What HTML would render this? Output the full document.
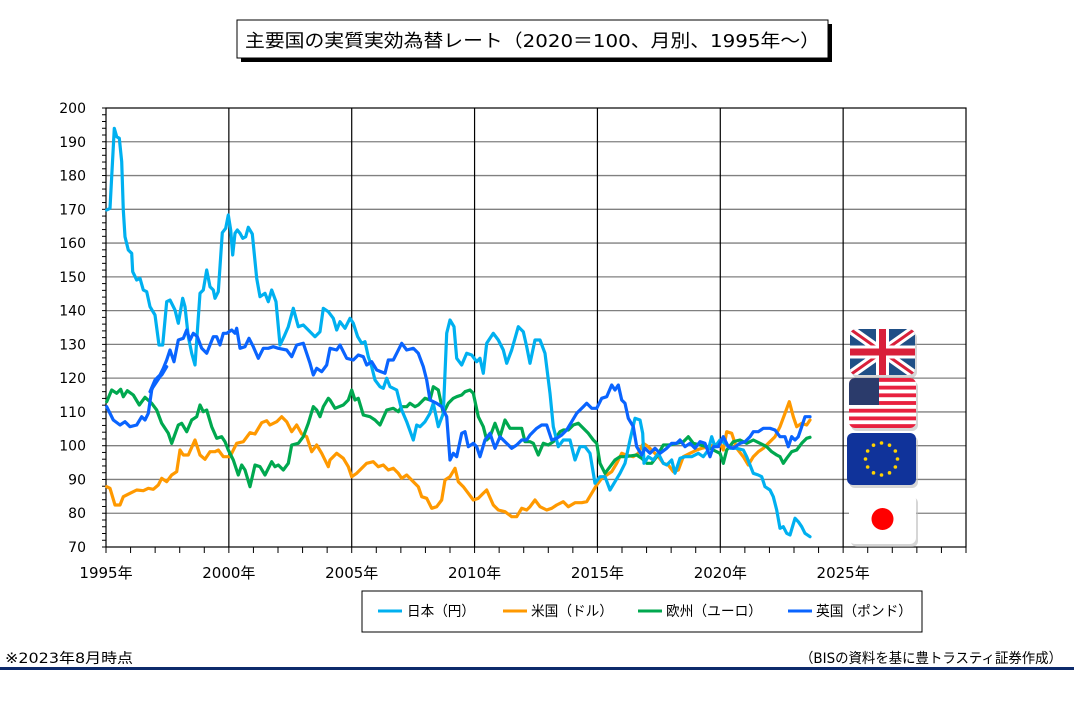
<!DOCTYPE html>
<html><head><meta charset="utf-8"><style>
body{margin:0;background:#fff;}
svg text{font-family:"DejaVu Sans","Noto Sans CJK JP",sans-serif;}
</style></head><body>
<svg id="s" width="1074" height="707" xmlns="http://www.w3.org/2000/svg">
<rect x="241" y="24" width="591" height="38" fill="#000"/>
<rect x="237" y="20" width="591" height="38" fill="#fff" stroke="#000" stroke-width="1"/>
<text x="245" y="47" font-size="18" textLength="575" lengthAdjust="spacingAndGlyphs">主要国の実質実効為替レート（2020＝100、月別、1995年～）</text>
<g id="grid"></g>
<g id="series" fill="none" stroke-width="3.2" stroke-linejoin="round" stroke-linecap="round"></g>
<g id="flags"></g>
<rect x="362" y="591" width="560" height="41" fill="#fff" stroke="#000"/>
<g font-size="14">
<line x1="378" y1="611" x2="402" y2="611" stroke="#00b0f0" stroke-width="3"/><text x="407" y="616" textLength="68" lengthAdjust="spacingAndGlyphs">日本（円）</text>
<line x1="503" y1="611" x2="527" y2="611" stroke="#ff9900" stroke-width="3"/><text x="531" y="616" textLength="82" lengthAdjust="spacingAndGlyphs">米国（ドル）</text>
<line x1="638" y1="611" x2="662" y2="611" stroke="#00a84f" stroke-width="3"/><text x="666" y="616" textLength="96" lengthAdjust="spacingAndGlyphs">欧州（ユーロ）</text>
<line x1="788" y1="611" x2="812" y2="611" stroke="#0a64ff" stroke-width="3"/><text x="816" y="616" textLength="96" lengthAdjust="spacingAndGlyphs">英国（ポンド）</text>
</g>
<text x="5" y="663" font-size="14" textLength="128" lengthAdjust="spacingAndGlyphs">※2023年8月時点</text>
<text x="800" y="663" font-size="14" textLength="262" lengthAdjust="spacingAndGlyphs">（BISの資料を基に豊トラスティ証券作成）</text>
<rect x="0" y="667" width="1074" height="3" fill="#0d2a6b"/>
</svg>
<script>
var NS="http://www.w3.org/2000/svg";
function el(p,t,a){var e=document.createElementNS(NS,t);for(var k in a)e.setAttribute(k,a[k]);p.appendChild(e);return e;}
var X0=106,X1=966,Y0=108,Y1=547;
var g=document.getElementById('grid');
function yv(v){return Y0+(200-v)*(Y1-Y0)/130;}
function xy(y){return X0+(y-1995)*(X1-X0)/35;}
for(var v=70;v<=200;v+=10){var y=yv(v);
 if(v>70&&v<200)el(g,'line',{x1:X0,x2:X1,y1:y,y2:y,stroke:'#808080','stroke-width':1.3});
 var t=el(g,'text',{x:86,y:y+5,'font-size':14,'text-anchor':'end'});t.textContent=v;}
for(var v=70;v<=200;v+=2){var y=yv(v);el(g,'line',{x1:X0-4,x2:X0,y1:y,y2:y,stroke:'#000','stroke-width':1});}
for(var yr=1995;yr<=2030;yr++){var x=xy(yr);
 el(g,'line',{x1:x,x2:x,y1:Y1,y2:Y1+6,stroke:'#000','stroke-width':1});
 if(yr%5==0){ if(yr>1995&&yr<2030)el(g,'line',{x1:x,x2:x,y1:Y0,y2:Y1,stroke:'#000','stroke-width':1.2});
  if(yr<=2025){var t=el(g,'text',{x:x,y:Y1+31,'font-size':15,'text-anchor':'middle'});t.textContent=yr+'年';}}}
el(g,'rect',{x:X0,y:Y0,width:X1-X0,height:Y1-Y0,fill:'none',stroke:'#000','stroke-width':1.2});

function tr(ox,oy,pts){var r=[];for(var i=0;i<pts.length;i+=2)r.push([ox+pts[i]/3,oy+pts[i+1]/3]);return r;}
function draw(col,arr){var d='';arr.forEach(function(p,i){d+=(i?'L':'M')+p[0].toFixed(1)+','+p[1].toFixed(1);});
 el(document.getElementById('series'),'path',{d:d,stroke:col});}

// orange
draw('#ff9900',[].concat(
tr(90,360,[50,380,60,385,75,435,90,435,100,410,120,400,140,390,160,392,175,385,190,388,205,375,215,355,230,365,245,345,260,335,270,270,280,285,295,285,315,240,330,285,345,298,360,275,375,275,385,270,400,290,420,290,440,250,460,245,480,218,495,222,515,188,530,182,540,195,560,185,575,170,590,185,605,215,620,195,635,222,650,230,665,275,680,255,695,280,715,320]),
tr(330,300,[0,480,20,460,40,475,55,500,65,530,80,520,95,505,110,490,130,485,145,500,160,495,175,510,190,505,205,520,215,535,230,525,250,545,265,560,275,590,290,595,305,625,320,620,335,600,345,540,360,530,375,505,385,545,400,560,415,580,430,600,445,595,460,580,470,570,490,615,505,630,525,635,545,650,560,650,575,625,590,630,600,620,615,600,630,620,650,630,665,625,680,615,700,605,715,620,735,608,755,608,770,605,785,580,800,555,815,535,830,525,845,515,860,490,875,460,888,465]),
tr(580,300,[160,470,175,460,190,430,205,440,220,455,235,470,250,490,265,495,280,515,295,510,310,470,330,460,350,450,365,445,385,440,400,435,420,430,430,450,440,395,455,400,470,445,490,470,505,495,520,470,535,455,550,445,570,425,585,410,600,380,615,340,628,305,640,350,650,380,665,370,680,375,690,360])));
// green
draw('#00a84f',[].concat(
tr(90,360,[50,125,65,90,80,100,92,88,100,110,112,92,130,105,148,135,165,112,185,130,200,150,215,190,235,220,245,250,265,195,275,190,290,215,305,180,320,170,330,135,340,155,350,150,365,200,380,235,395,230,405,245,415,270,430,300,445,345,455,315,465,330,480,380,495,315,510,320,525,345,545,305,555,320,565,315,580,330,595,310,605,255,625,250,640,230,655,190,670,140,680,150,690,170,700,140,715,115]),
tr(330,300,[0,300,15,325,40,315,55,300,65,270,75,300,85,295,100,345,120,350,135,360,150,375,170,330,190,325,205,335,215,320,230,320,240,310,255,320,265,315,285,295,300,300,310,260,325,270,340,340,355,310,370,295,380,290,395,285,405,275,420,270,430,280,445,350,460,380,470,420,480,410,495,370,510,410,525,360,540,385,560,385,575,385,585,425,600,425,610,430,625,465,640,430,655,435,670,425,690,395,700,390,715,390,730,375,745,370,760,385,775,400,790,420,800,430,810,490,825,520,840,500,855,480,870,470,885,470]),
tr(580,300,[170,465,185,475,200,490,215,490,230,470,250,435,270,435,290,430,310,425,325,410,340,430,360,435,380,440,400,450,420,460,430,490,440,450,460,425,480,420,500,430,520,420,540,430,560,440,575,455,590,465,600,470,610,490,620,475,635,455,650,450,665,430,680,415,690,412])));
// japan
draw('#00b0f0',[].concat(
tr(60,90,[140,360,150,355,163,115,170,140,178,145,185,215,190,360,195,440,205,480,215,490,218,545,230,570,240,565,250,600,260,605,270,650,285,675,297,765,308,765,320,635,330,630,345,660,355,700,368,625,375,650,385,740,395,790,405,825,420,610,430,600,440,540,450,590,460,600,465,625,475,605,487,428,497,415,505,375,512,420,518,495,525,430,532,420,540,430,548,445,557,440,565,412,577,432,590,565,600,620,615,610,625,635,635,600,648,635,660,765,672,740,685,710,700,655,715,710,730,705,745,720,765,740,780,725,790,655,805,665,820,685,830,720,840,695,855,715,870,685,880,700,893,740,905,760,915,755,925,800,935,830,945,870,960,890,970,895,980,865,990,890]),
tr(330,300,[200,270,215,330,230,365,250,420,260,375,270,380,285,365,300,340,310,310,325,380,340,340,350,100,360,60,372,80,380,175,395,195,410,160,425,165,440,185,450,175,460,220,470,130,490,100,505,120,520,150,530,190,545,150,565,80,580,95,590,140,600,190,615,120,630,120,645,160,660,280,670,380,685,440,700,420,720,420,735,480,750,440,765,440,780,460,795,550,810,530,825,530,840,570,855,545,870,520,885,490]),
tr(580,300,[150,420,165,355,180,360,188,400,192,490,205,470,220,480,235,460,250,490,260,495,275,480,285,520,300,475,315,470,335,470,355,460,370,470,385,450,395,410,405,440,420,420,435,430,450,445,470,445,490,450,500,470,510,495,520,520,535,525,545,530,555,560,570,570,580,590,590,630,600,685,610,680,620,700,630,705,645,655,655,665,665,680,675,700,690,710])));
// UK
draw('#0a64ff',[].concat(
tr(90,360,[50,140,70,180,90,195,105,185,120,200,140,195,155,170,165,180,175,160,185,90,200,55,215,45,230,20]),
tr(60,90,[270,905,285,870,300,855,310,835,320,810,330,780,342,815,355,750,370,745,380,720,390,750,400,730,412,740,425,775,440,790,460,740,470,740,480,765,490,730,500,730,515,720,525,730,530,715,540,775,555,770,567,745,580,770,595,805,610,775,625,775,640,770,655,775,680,780,695,800,710,765,730,760,750,820,760,855,770,835,785,845,800,825,810,775,830,780,840,765,860,805,880,810,895,795,910,800,920,825,935,815,950,840,975,850,985,810,1000,810]),
tr(330,300,[200,160,215,130,230,150,250,145,265,160,280,200,290,240,300,300,320,310,335,320,350,350,360,480,370,460,380,470,395,400,405,395,415,440,430,430,440,440,450,470,465,420,480,400,495,445,510,410,525,425,545,445,560,435,575,420,590,420,600,405,620,385,635,375,650,375,665,420,680,415,695,405,710,390,725,365,740,340,760,320,770,310,785,325,800,325,815,295,830,290,845,255,855,270,865,255,875,300,885,310,895,355]),
tr(580,300,[160,380,170,440,185,465,195,445,210,460,225,445,240,460,260,445,275,430,290,430,300,420,315,440,330,430,345,445,360,425,375,430,390,470,400,440,415,440,430,410,445,440,460,445,480,430,495,425,510,410,520,395,535,395,550,385,570,385,585,390,600,410,615,410,625,440,635,410,645,420,655,410,665,380,675,350,690,350])));

// flags
var f=document.getElementById('flags');
function flag(x,y,w,h,fn){var gg=el(f,'g',{transform:'translate('+x+','+y+')'});
 el(gg,'rect',{x:2,y:3,width:w,height:h,rx:6,fill:'#bbb',opacity:0.6});
 var cp=el(f,'clipPath',{id:'c'+x});el(cp,'rect',{x:0,y:0,width:w,height:h,rx:6});
 var c=el(gg,'g',{'clip-path':'url(#c'+x+')'});
 fn(c,w,h);}
flag(850,329,65,46,function(c,w,h){el(c,'rect',{width:w,height:h,fill:'#1f4f86'});
 el(c,'path',{d:'M0,0L'+w+','+h+'M'+w+',0L0,'+h,stroke:'#fff','stroke-width':9});
 el(c,'path',{d:'M0,0L'+w+','+h+'M'+w+',0L0,'+h,stroke:'#d9203a','stroke-width':3});
 el(c,'path',{d:'M'+w/2+',0V'+h+'M0,'+h/2+'H'+w,stroke:'#fff','stroke-width':13});
 el(c,'path',{d:'M'+w/2+',0V'+h+'M0,'+h/2+'H'+w,stroke:'#d9203a','stroke-width':7});});
flag(849,378,67,50,function(c,w,h){el(c,'rect',{width:w,height:h,fill:'#fff'});
 for(var i=0;i<13;i+=2)el(c,'rect',{x:0,y:i*h/13,width:w,height:h/13,fill:'#e8213f'});
 el(c,'rect',{width:30,height:27,fill:'#2b3b6b'});});
flag(847,433,69,52,function(c,w,h){el(c,'rect',{width:w,height:h,fill:'#10339a'});
 for(var i=0;i<12;i++){var a=i*Math.PI/6;el(c,'circle',{cx:w/2+16*Math.cos(a),cy:h/2+16*Math.sin(a),r:1.8,fill:'#ffd200'});}});
flag(849,494,67,50,function(c,w,h){el(c,'rect',{width:w,height:h,fill:'#fff'});
 el(c,'circle',{cx:w/2,cy:h/2,r:11,fill:'#ff0000'});});
</script>
</body></html>
